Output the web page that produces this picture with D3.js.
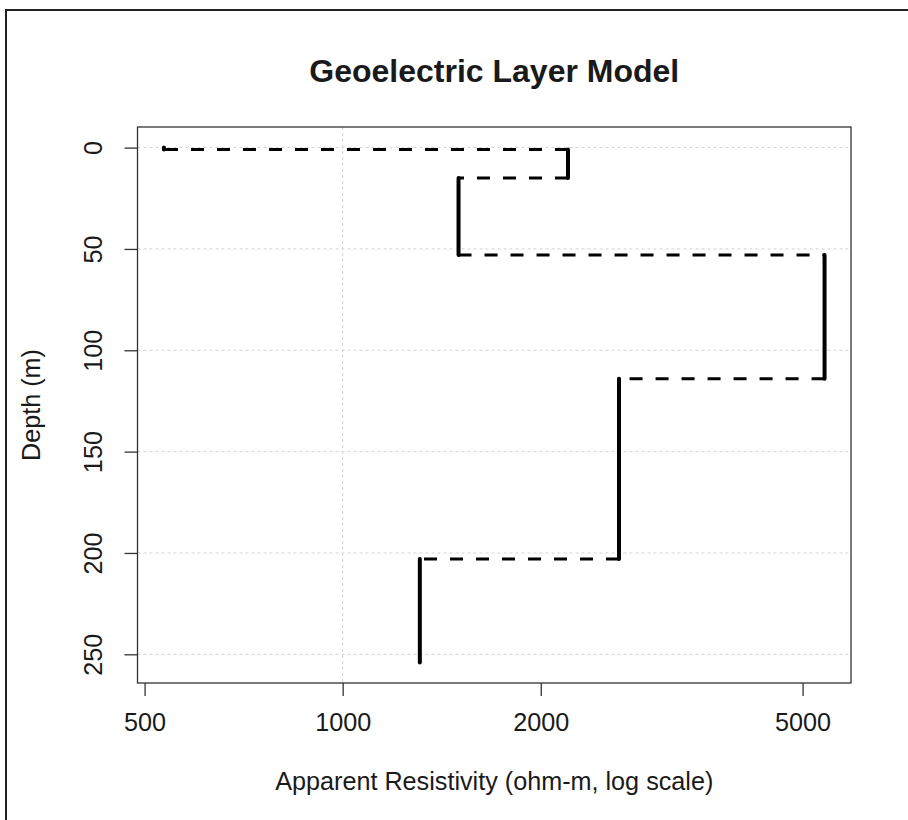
<!DOCTYPE html>
<html>
<head>
<meta charset="utf-8">
<script src="https://cdn.jsdelivr.net/npm/d3@7"></script>
<style>
  html, body { margin: 0; padding: 0; background: #fff; }
  svg { display: block; }
  text { font-family: "Liberation Sans", Arial, sans-serif; fill: #1a1a1a; }
</style>
</head>
<body>
<svg id="chart" width="908" height="820"></svg>
<script>
// ---- data ----
const layerRes    = [535, 2200, 1500, 5400, 2630, 1310];   // ohm-m
const layerTop    = [0, 1, 15, 53, 114, 203];              // m
const layerBottom = [1, 15, 53, 114, 203, 254];            // m
const resTicks    = [500, 1000, 2000, 5000];
const depthTicks  = [0, 50, 100, 150, 200, 250];
const gridRes     = [1000];
const titleText   = "Geoelectric Layer Model";
const xLabelText  = "Apparent Resistivity (ohm-m, log scale)";
const yLabelText  = "Depth (m)";

// ---- layout ----
const box = {left: 137.5, right: 851, top: 127, bottom: 683};
const FONT = 25.2;

const svg = d3.select("#chart");

// outer figure border
svg.append("rect")
  .attr("x", 6).attr("y", 10).attr("width", 1000).attr("height", 1000)
  .attr("fill", "none").attr("stroke", "#222").attr("stroke-width", 2);

// R-style 4% range extension
function extendLog(ext) {
  const l0 = Math.log10(ext[0]), l1 = Math.log10(ext[1]);
  const e = (l1 - l0) * 0.04;
  return [Math.pow(10, l0 - e), Math.pow(10, l1 + e)];
}
function extendLin(ext) {
  const e = (ext[1] - ext[0]) * 0.04;
  return [ext[0] - e, ext[1] + e];
}

const x = d3.scaleLog()
  .domain(extendLog(d3.extent(layerRes)))
  .range([box.left, box.right]);
const y = d3.scaleLinear()
  .domain(extendLin([d3.min(layerTop), d3.max(layerBottom)]))
  .range([box.top, box.bottom]);

// grid
const grid = svg.append("g")
  .attr("stroke", "#d3d3d3").attr("stroke-width", 1)
  .attr("stroke-dasharray", "3,3").attr("fill", "none");
grid.selectAll("line.h").data(depthTicks).join("line")
  .attr("class", "h")
  .attr("x1", box.left).attr("x2", box.right)
  .attr("y1", d => y(d)).attr("y2", d => y(d));
grid.selectAll("line.v").data(gridRes).join("line")
  .attr("class", "v")
  .attr("y1", box.top).attr("y2", box.bottom)
  .attr("x1", d => x(d)).attr("x2", d => x(d));

// dashed horizontal transitions between layers
const trans = d3.range(layerRes.length - 1).map(i => ({
  depth: layerBottom[i],
  a: layerRes[i], b: layerRes[i + 1],
  upFirst: i === 2
}));
svg.append("g").selectAll("line").data(trans).join("line")
  .attr("x1", d => x(d.upFirst ? d.a : Math.max(d.a, d.b)))
  .attr("x2", d => x(d.upFirst ? d.b : Math.min(d.a, d.b)))
  .attr("y1", d => y(d.depth)).attr("y2", d => y(d.depth))
  .attr("stroke", "#000").attr("stroke-width", 3)
  .attr("stroke-dasharray", "13,13").attr("stroke-linecap", "butt");

// solid vertical layer segments
svg.append("g").selectAll("line").data(layerRes).join("line")
  .attr("x1", d => x(d)).attr("x2", d => x(d))
  .attr("y1", (d, i) => y(layerTop[i])).attr("y2", (d, i) => y(layerBottom[i]))
  .attr("stroke", "#000").attr("stroke-width", 4)
  .attr("stroke-linecap", "round");

// plot box
svg.append("rect")
  .attr("x", box.left).attr("y", box.top)
  .attr("width", box.right - box.left).attr("height", box.bottom - box.top)
  .attr("fill", "none").attr("stroke", "#333").attr("stroke-width", 1.3);

// x axis
const xAxis = svg.append("g")
  .attr("transform", `translate(0,${box.bottom})`)
  .call(d3.axisBottom(x).tickValues(resTicks).tickFormat(d3.format("d")).tickSize(13).tickPadding(0));
xAxis.select(".domain").remove();
xAxis.selectAll(".tick line").attr("stroke", "#333").attr("stroke-width", 1.3);
xAxis.selectAll(".tick text")
  .attr("y", 48).attr("dy", 0)
  .attr("font-size", FONT).attr("fill", "#1a1a1a")
  .attr("font-family", "Liberation Sans, Arial, sans-serif");

// y axis
const yAxis = svg.append("g")
  .attr("transform", `translate(${box.left},0)`)
  .call(d3.axisLeft(y).tickValues(depthTicks).tickSize(13).tickPadding(0));
yAxis.select(".domain").remove();
yAxis.selectAll(".tick line").attr("stroke", "#333").attr("stroke-width", 1.3);
yAxis.selectAll(".tick text")
  .attr("x", 0).attr("dy", 0)
  .attr("text-anchor", "middle")
  .attr("transform", "translate(-36,0) rotate(-90)")
  .attr("font-size", FONT).attr("fill", "#1a1a1a")
  .attr("font-family", "Liberation Sans, Arial, sans-serif");

// title
const cx = (box.left + box.right) / 2;
svg.append("text")
  .attr("transform", `translate(${cx},82)`)
  .attr("text-anchor", "middle")
  .attr("font-size", 32).attr("font-weight", "bold")
  .text(titleText);

// x label
svg.append("text")
  .attr("transform", `translate(${cx},790)`)
  .attr("text-anchor", "middle")
  .attr("font-size", FONT)
  .text(xLabelText);

// y label
svg.append("text")
  .attr("transform", `translate(40,${(box.top + box.bottom) / 2}) rotate(-90)`)
  .attr("text-anchor", "middle")
  .attr("font-size", FONT)
  .text(yLabelText);
</script>
</body>
</html>
